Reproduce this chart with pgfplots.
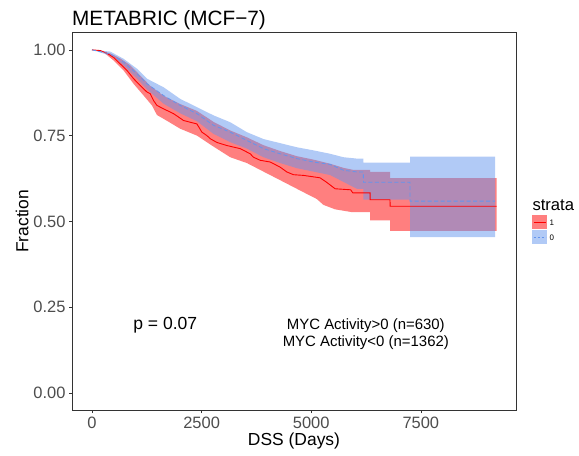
\documentclass[border=0pt]{standalone}
\usepackage{pgfplots}
\pgfplotsset{compat=1.18}
\usepgfplotslibrary{fillbetween}
\usepackage{fontspec}
\setmainfont{Liberation Sans}
\definecolor{kmred}{RGB}{255,0,0}
\definecolor{kmblue}{RGB}{100,149,237}
\definecolor{gray30}{RGB}{77,77,77}
\definecolor{gray20}{RGB}{51,51,51}
\begin{document}
\begin{tikzpicture}
\begin{axis}[
  at={(72bp,-410bp)}, anchor=south west,
  scale only axis, width=444bp, height=377.3bp,
  xmin=-456, xmax=9670, ymin=-0.05, ymax=1.05,
  xtick={0,2500,5000,7500}, xticklabels={0,2500,5000,7500},
  ytick={0,0.25,0.5,0.75,1}, yticklabels={0.00,0.25,0.50,0.75,1.00},
  xtick pos=left, ytick pos=left, tick align=outside,
  major tick length=3bp,
  tick style={gray20, line width=0.6bp},
  axis line style={gray20, line width=0.8bp},
  /pgf/number format/assume math mode=true,
  ticklabel style={font=\fontsize{16.5}{18}\selectfont, text=gray30},
  xlabel={DSS (Days)}, ylabel={Fraction},
  label style={font=\fontsize{17.5}{19}\selectfont},
  xlabel style={yshift=2bp},
  ylabel style={yshift=-2bp},
  clip=false,
]
% red (strata 1) confidence band
\addplot[name path=rhi, draw=none, sharp plot, forget plot] coordinates {(0,1.0)(417,0.99)(645,0.975)(873,0.955)(1101,0.925)(1329,0.895)(1632,0.866)(2012,0.842)(2393,0.822)(2771,0.790)(3152,0.765)(3532,0.745)(3911,0.722)(4291,0.705)(4672,0.690)(5050,0.680)(5431,0.668)(5734,0.656)(5962,0.650)(6342,0.650)(6343,0.644)(6797,0.644)(6798,0.626)(9230,0.626)};
\addplot[name path=rlo, draw=none, sharp plot, forget plot] coordinates {(0,1.0)(264,0.993)(492,0.969)(720,0.940)(948,0.901)(1176,0.867)(1367,0.838)(1481,0.810)(1632,0.799)(2012,0.770)(2393,0.750)(2771,0.718)(3152,0.687)(3532,0.670)(3911,0.645)(4216,0.625)(4519,0.605)(4822,0.585)(5128,0.565)(5278,0.548)(5545,0.535)(5925,0.527)(6342,0.527)(6343,0.503)(6797,0.503)(6798,0.472)(9230,0.472)};
\addplot[fill=kmred, fill opacity=0.5, draw=none, forget plot] fill between[of=rhi and rlo];
% red line
\addplot[kmred, line width=0.9bp, sharp plot] coordinates {(0,1.0)(189,0.998)(342,0.99)(492,0.978)(645,0.959)(798,0.940)(948,0.916)(1101,0.896)(1253,0.877)(1329,0.872)(1404,0.852)(1481,0.838)(1632,0.828)(1860,0.814)(2088,0.794)(2393,0.784)(2507,0.760)(2621,0.750)(2696,0.741)(2849,0.730)(3077,0.721)(3380,0.712)(3608,0.697)(3683,0.687)(3836,0.678)(4064,0.673)(4216,0.663)(4291,0.658)(4444,0.644)(4594,0.636)(4822,0.634)(5200,0.627)(5350,0.614)(5545,0.595)(5900,0.592)(5948,0.583)(6342,0.583)(6343,0.563)(6797,0.563)(6798,0.544)(9230,0.544)};
% blue (strata 0) confidence band
\addplot[name path=bhi, draw=none, sharp plot, forget plot] coordinates {(0,1.0)(417,0.995)(720,0.974)(1026,0.945)(1253,0.916)(1632,0.891)(2012,0.857)(2393,0.833)(2771,0.809)(3152,0.789)(3532,0.760)(3911,0.740)(4291,0.728)(4672,0.716)(5050,0.707)(5431,0.697)(5734,0.687)(6039,0.683)(6189,0.683)(6190,0.671)(7253,0.671)(7254,0.689)(9191,0.689)};
\addplot[name path=blo, draw=none, sharp plot, forget plot] coordinates {(0,1.0)(492,0.98)(720,0.954)(1026,0.916)(1253,0.885)(1632,0.843)(2012,0.815)(2393,0.792)(2771,0.755)(3152,0.731)(3532,0.712)(3911,0.687)(4291,0.670)(4672,0.655)(5050,0.645)(5431,0.635)(5734,0.615)(6039,0.595)(6189,0.595)(6190,0.563)(7253,0.563)(7254,0.454)(9191,0.454)};
\addplot[fill=kmblue, fill opacity=0.5, draw=none, forget plot] fill between[of=bhi and blo];
% blue line
\addplot[kmblue, line width=0.8bp, sharp plot, dash pattern=on 4bp off 2.5bp] coordinates {(0,1.0)(417,0.988)(720,0.964)(1026,0.930)(1253,0.901)(1632,0.867)(2012,0.838)(2393,0.814)(2771,0.780)(3152,0.760)(3532,0.736)(3911,0.712)(4291,0.697)(4672,0.683)(5050,0.673)(5431,0.666)(5734,0.649)(6039,0.644)(6189,0.644)(6190,0.614)(7253,0.614)(7254,0.559)(9191,0.559)};
% annotations
\node[font=\fontsize{17.6}{19}\selectfont] at (axis cs:1670,0.197) {p = 0.07};
\node[font=\fontsize{15}{16}\selectfont] at (axis cs:6245,0.197) {MYC Activity>0 (n=630)};
\node[font=\fontsize{15}{16}\selectfont] at (axis cs:6245,0.147) {MYC Activity<0 (n=1362)};
\end{axis}
% title
\node[anchor=base west, inner sep=0pt, font=\fontsize{20.8}{22}\selectfont] at (72bp,-25bp) {METABRIC (MCF−7)};
% legend
\node[anchor=base west, inner sep=0pt, font=\fontsize{16.7}{18}\selectfont] at (532.3bp,-210bp) {strata};
\fill[kmred, fill opacity=0.5] (532.3bp,-215bp) rectangle (546.7bp,-229.3bp);
\draw[kmred, line width=0.9bp] (533.5bp,-222.2bp) -- (545.5bp,-222.2bp);
\fill[kmblue, fill opacity=0.5] (532.3bp,-230bp) rectangle (546.7bp,-244.3bp);
\draw[kmblue, line width=0.8bp, dash pattern=on 2.5bp off 1.5bp] (533.5bp,-237.2bp) -- (545.5bp,-237.2bp);
\node[anchor=west, inner sep=0pt, font=\fontsize{8}{9}\selectfont] at (549.3bp,-222.3bp) {1};
\node[anchor=west, inner sep=0pt, font=\fontsize{8}{9}\selectfont] at (549.3bp,-237.3bp) {0};
\pgfresetboundingbox
\path[use as bounding box] (0bp,0bp) rectangle (579bp,-456bp);
\end{tikzpicture}
\end{document}
